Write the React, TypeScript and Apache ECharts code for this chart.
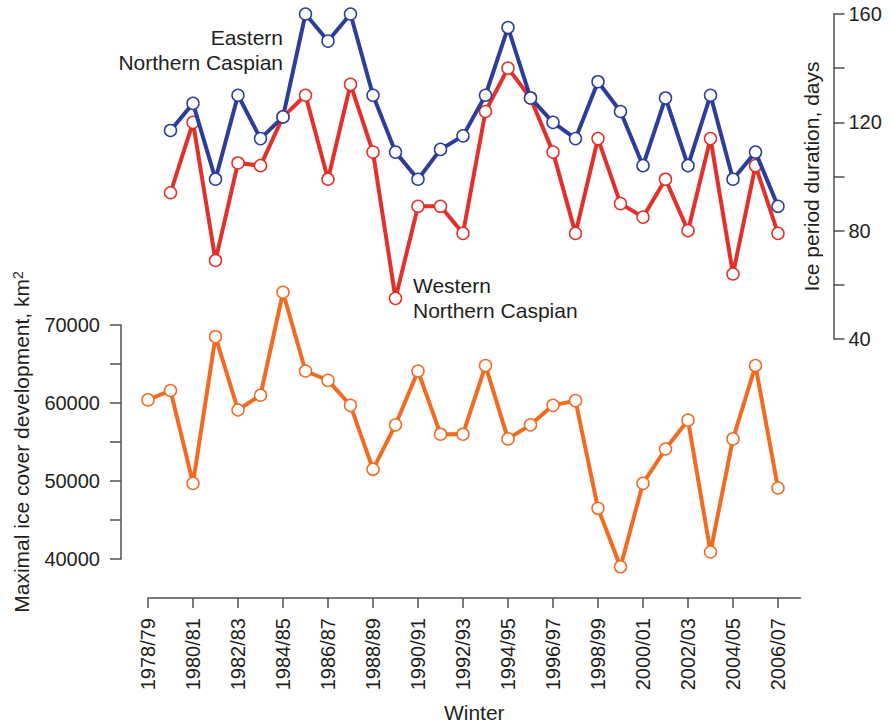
import { useEffect, useRef } from "react";
import * as echarts from "echarts";

// Winters on the category axis
const WINTERS = [
  "1978/79", "1979/80", "1980/81", "1981/82", "1982/83", "1983/84", "1984/85",
  "1985/86", "1986/87", "1987/88", "1988/89", "1989/90", "1990/91", "1991/92",
  "1992/93", "1993/94", "1994/95", "1995/96", "1996/97", "1997/98", "1998/99",
  "1999/00", "2000/01", "2001/02", "2002/03", "2003/04", "2004/05", "2005/06",
  "2006/07",
];

// Maximal ice cover development, km² (1978/79 – 2006/07)
const MAX_ICE_COVER = [
  60400, 61600, 49700, 68500, 59100, 61000, 74200, 64100, 62900, 59700,
  51500, 57200, 64100, 56000, 56000, 64800, 55400, 57200, 59700, 60300,
  46500, 39000, 49700, 54100, 57800, 40900, 55400, 64800, 49100,
];

// Ice period duration, days (1979/80 – 2006/07)
const EASTERN_DAYS = [
  117, 127, 99, 130, 114, 122, 160, 150, 160, 130, 109, 99, 110, 115,
  130, 155, 129, 120, 114, 135, 124, 104, 129, 104, 130, 99, 109, 89,
];
const WESTERN_DAYS = [
  94, 120, 69, 105, 104, 122, 130, 99, 134, 109, 55, 89, 89, 79,
  124, 140, 129, 109, 79, 114, 90, 85, 99, 80, 114, 64, 104, 79,
];

// Tick values that carry a label
const ICE_COVER_LABEL_STEP = 10000;
const DAYS_LABEL_STEP = 40;

const FONT = '"Liberation Sans", Arial, Helvetica, sans-serif';
const TEXT = "#231f20";
const AXIS = "#505050";
const BLUE = "#2c3d9c";
const RED = "#e1312a";
const ORANGE = "#f26b21";

function lineSeries(
  data: (number | null)[],
  color: string,
  axisIndex: number,
  z: number
) {
  return {
    type: "line",
    xAxisIndex: axisIndex,
    yAxisIndex: axisIndex,
    data,
    clip: false,
    z,
    symbol: "circle",
    symbolSize: 12,
    showAllSymbol: true,
    lineStyle: { color, width: 4 },
    itemStyle: { color: "#ffffff", borderColor: color, borderWidth: 1.5 },
    emphasis: { disabled: true },
  };
}

export default function App() {
  const ref = useRef<HTMLDivElement>(null);

  useEffect(() => {
    if (!ref.current) return;
    const chart = echarts.init(ref.current, null, { renderer: "svg" });
    const categories = [...WINTERS, ""];
    const tickStyle = { color: AXIS, width: 1.5 };
    const labelFont = { fontSize: 20, color: TEXT, fontFamily: FONT };
    const nameFont = { fontSize: 21, color: TEXT, fontFamily: FONT };

    chart.setOption({
      animation: false,
      backgroundColor: "#ffffff",
      textStyle: { fontFamily: FONT, color: TEXT },
      grid: [
        { left: 148, top: 325, width: 652.5, height: 234 },
        { left: 148, top: 14, width: 652.5, height: 325 },
      ],
      xAxis: [
        {
          type: "category",
          gridIndex: 0,
          data: categories,
          boundaryGap: false,
          position: "bottom",
          offset: 39,
          name: "Winter",
          nameLocation: "middle",
          nameGap: 104,
          nameTextStyle: nameFont,
          axisLine: { lineStyle: tickStyle },
          axisTick: { length: 10, interval: 1, lineStyle: tickStyle },
          axisLabel: { interval: 1, rotate: 90, margin: 20, ...labelFont },
          splitLine: { show: false },
        },
        {
          type: "category",
          gridIndex: 1,
          data: categories,
          boundaryGap: false,
          show: false,
        },
      ],
      yAxis: [
        {
          type: "value",
          gridIndex: 0,
          position: "left",
          offset: 27,
          min: 40000,
          max: 70000,
          interval: 5000,
          name: "{t|Maximal ice cover development, km}{s|2}",
          nameLocation: "middle",
          nameRotate: 90,
          nameGap: 89,
          nameTextStyle: {
            ...nameFont,
            rich: {
              t: { ...nameFont },
              s: { fontSize: 14, color: TEXT, fontFamily: FONT, verticalAlign: "top" },
            },
          },
          axisLine: { show: true, lineStyle: tickStyle },
          axisTick: { show: true, length: 11, lineStyle: tickStyle },
          axisLabel: {
            margin: 21,
            ...labelFont,
            formatter: (v: number) =>
              v % ICE_COVER_LABEL_STEP === 0 ? String(v) : "",
          },
          splitLine: { show: false },
        },
        {
          type: "value",
          gridIndex: 1,
          position: "right",
          offset: 33,
          min: 40,
          max: 160,
          interval: 20,
          name: "Ice period duration, days",
          nameLocation: "middle",
          nameRotate: 90,
          nameGap: -33,
          nameTextStyle: nameFont,
          axisLine: { show: true, lineStyle: tickStyle },
          axisTick: { show: true, length: 11, lineStyle: tickStyle },
          axisLabel: {
            margin: 15,
            ...labelFont,
            formatter: (v: number) =>
              v % DAYS_LABEL_STEP === 0 ? String(v) : "",
          },
          splitLine: { show: false },
        },
      ],
      graphic: [
        {
          type: "text",
          x: 283,
          y: 37,
          style: {
            text: "Eastern",
            fill: TEXT,
            font: `21px ${FONT}`,
            align: "right",
            verticalAlign: "middle",
          },
        },
        {
          type: "text",
          x: 283,
          y: 62,
          style: {
            text: "Northern Caspian",
            fill: TEXT,
            font: `21px ${FONT}`,
            align: "right",
            verticalAlign: "middle",
          },
        },
        {
          type: "text",
          x: 413,
          y: 285,
          style: {
            text: "Western",
            fill: TEXT,
            font: `21px ${FONT}`,
            align: "left",
            verticalAlign: "middle",
          },
        },
        {
          type: "text",
          x: 413,
          y: 310,
          style: {
            text: "Northern Caspian",
            fill: TEXT,
            font: `21px ${FONT}`,
            align: "left",
            verticalAlign: "middle",
          },
        },
      ],
      series: [
        lineSeries(MAX_ICE_COVER, ORANGE, 0, 2),
        lineSeries([null, ...WESTERN_DAYS], RED, 1, 3),
        lineSeries([null, ...EASTERN_DAYS], BLUE, 1, 4),
      ],
    });

    return () => chart.dispose();
  }, []);

  return (
    <div
      ref={ref}
      style={{ position: "absolute", left: 0, top: 0, width: 892, height: 725 }}
    />
  );
}
